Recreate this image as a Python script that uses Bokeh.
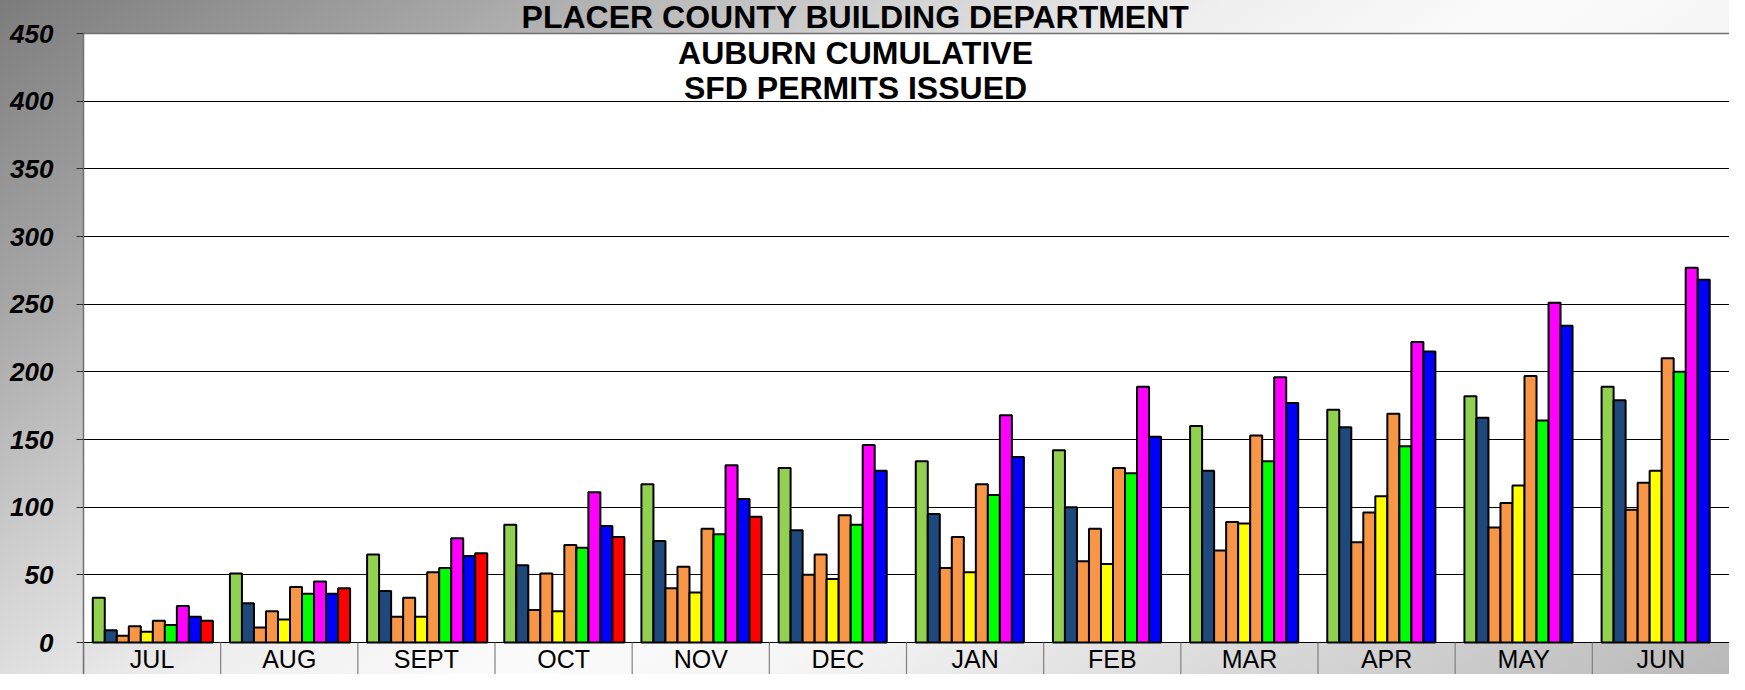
from bokeh.plotting import figure
from bokeh.models import (ColumnDataSource, FactorRange, Range1d, FixedTicker,
                          BoxAnnotation, Span)
from bokeh.transform import dodge
from bokeh.core.properties import value
from bokeh.embed import file_html
from bokeh.resources import INLINE

# ---------------- data ----------------
months = ["JUL", "AUG", "SEPT", "OCT", "NOV", "DEC",
          "JAN", "FEB", "MAR", "APR", "MAY", "JUN"]

series_1 = [33, 51, 65, 87, 117, 129, 134, 142, 160, 172, 182, 189]
series_2 = [9, 29, 38, 57, 75, 83, 95, 100, 127, 159, 166, 179]
series_3 = [5, 11, 19, 24, 40, 50, 55, 60, 68, 74, 85, 98]
series_4 = [12, 23, 33, 51, 56, 65, 78, 84, 89, 96, 103, 118]
series_5 = [8, 17, 19, 23, 37, 47, 52, 58, 88, 108, 116, 127]
series_6 = [16, 41, 52, 72, 84, 94, 117, 129, 153, 169, 197, 210]
series_7 = [13, 36, 55, 70, 80, 87, 109, 125, 134, 145, 164, 200]
series_8 = [27, 45, 77, 111, 131, 146, 168, 189, 196, 222, 251, 277]
series_9 = [19, 36, 64, 86, 106, 127, 137, 152, 177, 215, 234, 268]
series_10 = [16, 40, 66, 78, 93, None, None, None, None, None, None, None]

series = [series_1, series_2, series_3, series_4, series_5,
          series_6, series_7, series_8, series_9, series_10]
colors = ["#92D050", "#1F497D", "#F79646", "#F79646", "#FFFF00",
          "#F79646", "#00FF00", "#FF00FF", "#0000FF", "#FF0000"]

y_ticks = [0, 50, 100, 150, 200, 250, 300, 350, 400, 450]
grid_ticks = [0, 50, 100, 150, 200, 250, 300, 350, 400]

title_lines = ["PLACER COUNTY BUILDING DEPARTMENT",
               "AUBURN CUMULATIVE",
               "SFD PERMITS ISSUED"]

# ---------------- layout constants (pixels) ----------------
W, H = 1729, 674
LEFT = 83
TOP450 = 33                       # canvas y of the value 450
ZERO_Y = 642                      # canvas y of the value 0
SCALE = (ZERO_Y - TOP450) / 450.0
Y_START = -(H - ZERO_Y) / SCALE
Y_END = 450 + TOP450 / SCALE


def y_at(canvas_y):
    return 450 - (canvas_y - TOP450) / SCALE


FONT = "Liberation Sans"

p = figure(width=W, height=H,
           x_range=FactorRange(*months, range_padding=0, factor_padding=0),
           y_range=Range1d(Y_START, Y_END),
           x_axis_location=None,
           output_backend="svg", toolbar_location=None,
           min_border_left=LEFT, min_border_right=0,
           min_border_top=0, min_border_bottom=0)

p.styles = {"background": "linear-gradient(147deg, #7c7c7c 0%, #a6a6a6 17%, "
                          "#d3d3d3 33%, #eeeeee 44%, #fbfbfb 55%, #f6f6f6 65%, "
                          "#dcdcdc 80%, #c0c0c0 96%, #b8b8b8 100%)"}
p.border_fill_color = None
p.background_fill_color = None
p.outline_line_color = None

# white plotting area between 0 and 450
p.add_layout(BoxAnnotation(bottom=0, top=450, fill_color="white", fill_alpha=1.0,
                           line_alpha=0, level="image"))
p.add_layout(Span(location=450, dimension="width", line_color="#707070",
                  line_width=1.5, level="underlay"))

# grid
p.xgrid.visible = False
p.ygrid.ticker = FixedTicker(ticks=grid_ticks)
p.ygrid.grid_line_color = "black"
p.ygrid.grid_line_width = 1

# y axis
yax = p.yaxis[0]
yax.ticker = FixedTicker(ticks=y_ticks)
yax.bounds = (Y_START, 450)
yax.axis_line_color = "#707070"
yax.axis_line_width = 1.5
yax.major_tick_line_color = "#303030"
yax.major_tick_out = 7
yax.major_tick_in = 0
yax.minor_tick_line_color = None
yax.major_label_standoff = 23
yax.major_label_text_font = FONT
yax.major_label_text_font_style = "bold italic"
yax.major_label_text_font_size = "26px"
yax.major_label_text_color = "black"

# bars
bar_w = 0.0876
first_offset = -0.3887
for k, (vals, col) in enumerate(zip(series, colors)):
    xs = [m for m, v in zip(months, vals) if v is not None]
    ys = [v for v in vals if v is not None]
    src = ColumnDataSource(dict(month=xs, val=ys))
    p.vbar(x=dodge("month", first_offset + k * bar_w, range=p.x_range),
           top="val", bottom=0, width=bar_w, source=src,
           fill_color=col, line_color="black", line_width=2)

# category band below the zero line
band_src = ColumnDataSource(dict(month=months))
p.segment(x0=dodge("month", -0.5, range=p.x_range), y0=0,
          x1=dodge("month", -0.5, range=p.x_range), y1=Y_START * 2,
          source=band_src, line_color="#808080", line_width=1.2)
p.text(x="month", y=y_at((H + ZERO_Y) / 2.0), text="month", source=band_src,
       text_align="center", text_baseline="middle",
       text_font=value(FONT), text_font_size="25px", text_color="black")

# titles (centred near x = 855 px, i.e. inside the DEC slot)
group_px = (W - LEFT) / len(months)
title_off = (855 - LEFT) / group_px - 5.5
title_src = ColumnDataSource(dict(
    anchor=["DEC", "DEC", "DEC"],
    text=title_lines,
    y=[y_at(16.5), y_at(52), y_at(87)],
))
p.text(x=dodge("anchor", title_off, range=p.x_range), y="y", text="text",
       source=title_src, text_align="center", text_baseline="middle",
       text_font=value(FONT), text_font_style="bold",
       text_font_size="32px", text_color="black")

open("out.html", "w").write(file_html(p, INLINE))
